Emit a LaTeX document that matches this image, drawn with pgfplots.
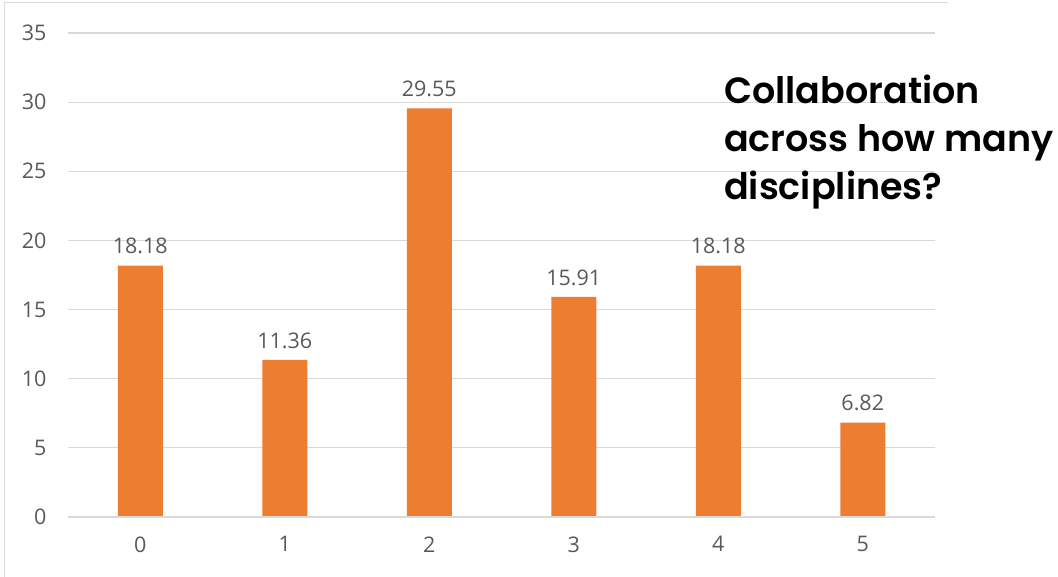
\documentclass[border=0pt]{standalone}
\usepackage{fontspec}
\setmainfont{Open Sans}
\newfontfamily\titlefont{Poppins SemiBold}
\usepackage{pgfplots}
\pgfplotsset{compat=1.18}
\definecolor{barorange}{HTML}{ED7D31}
\definecolor{gridgray}{HTML}{D9D9D9}
\definecolor{ticktext}{HTML}{595959}
\definecolor{framegray}{HTML}{D9D9D9}
\begin{document}
\begin{tikzpicture}
\path[use as bounding box] (0pt,0pt) rectangle (1058pt,577pt);
\draw[framegray,line width=1pt] (4pt,0pt) -- (4pt,574pt) -- (948pt,574pt);
\begin{axis}[
  at={(68pt,60pt)}, anchor=south west,
  scale only axis, width=867pt, height=484pt,
  xmin=-0.5, xmax=5.5, ymin=0, ymax=35,
  xtick={0,1,2,3,4,5},
  ytick={0,5,10,15,20,25,30,35},
  axis line style={draw=none},
  tick style={draw=none},
  ymajorgrids, grid style={gridgray,line width=1.2pt},
  major tick length=0pt,
  ticklabel style={font=\fontsize{21.5}{25}\selectfont, text=ticktext},
  yticklabel style={xshift=-18pt},
  xticklabel style={yshift=-16pt},
  /pgf/number format/assume math mode=true,
  ybar, bar width=45pt,
  nodes near coords,
  nodes near coords style={font=\fontsize{21.5}{25}\selectfont, text=ticktext, anchor=south, yshift=8pt,
    /pgf/number format/.cd, fixed, precision=2, fixed zerofill},
  clip=false,
]
\addplot[fill=barorange, draw=none] coordinates {(0,18.18) (1,11.36) (2,29.55) (3,15.91) (4,18.18) (5,6.82)};
\draw[gridgray,line width=1.2pt] (axis cs:-0.5,0) -- (axis cs:5.5,0);
\end{axis}
\node[anchor=north west, align=left, inner sep=0pt, font=\titlefont\fontsize{36.5}{48}\selectfont] at (724pt,502pt) {Collaboration\\across how many\\disciplines?};
\end{tikzpicture}
\end{document}
